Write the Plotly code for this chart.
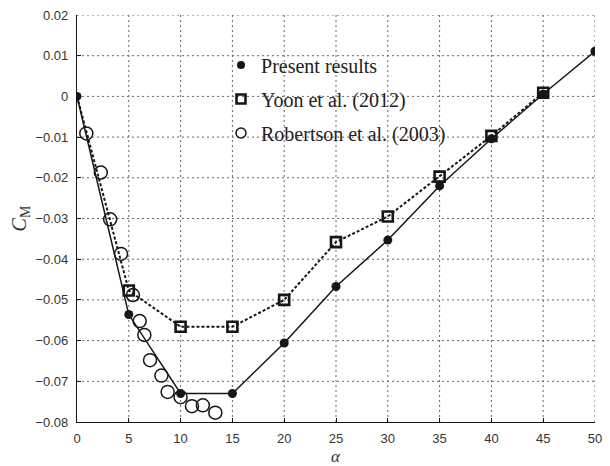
import plotly.graph_objects as go

# Present results
present_alpha = [0, 5, 10, 15, 20, 25, 30, 35, 40, 45, 50]
present_cm = [0.0, -0.0536, -0.0730, -0.0730, -0.0606, -0.0467, -0.0353, -0.0220, -0.0104, 0.0006, 0.0111]

# Yoon et al. (2012)
yoon_alpha = [0, 5, 10, 15, 20, 25, 30, 35, 40, 45]
yoon_cm = [0.0, -0.0477, -0.0566, -0.0566, -0.0500, -0.0358, -0.0295, -0.0197, -0.0097, 0.0009]

# Robertson et al. (2003)
rob_alpha = [0.9, 2.3, 3.2, 4.25, 5.4, 6.05, 6.5, 7.05, 8.15, 8.75, 10.0, 11.1, 12.15, 13.35]
rob_cm = [-0.0091, -0.0187, -0.0302, -0.0387, -0.0488, -0.0552, -0.0586, -0.0648, -0.0686, -0.0726,
          -0.0739, -0.0761, -0.0759, -0.0777]

x_ticks = [0, 5, 10, 15, 20, 25, 30, 35, 40, 45, 50]
y_ticks = [0.02, 0.01, 0, -0.01, -0.02, -0.03, -0.04, -0.05, -0.06, -0.07, -0.08]

BLACK = "#161616"
SERIF = "Liberation Serif, Times New Roman, serif"
SANS = "Liberation Sans, Arial, sans-serif"
GRID = "#666666"

fig = go.Figure()

# Dotted grid built from the tick arrays
for xv in x_ticks[1:]:
    fig.add_shape(type="line", xref="x", yref="y domain", x0=xv, x1=xv, y0=0, y1=1,
                  line=dict(color=GRID, width=1, dash="2px,3px"), layer="below")
for yv in y_ticks[:-1]:
    fig.add_shape(type="line", xref="x domain", yref="y", x0=0, x1=1, y0=yv, y1=yv,
                  line=dict(color=GRID, width=1, dash="2px,3px"), layer="below")

# Yoon: dotted line
fig.add_trace(go.Scatter(
    x=yoon_alpha, y=yoon_cm, mode="lines", showlegend=False,
    line=dict(color=BLACK, width=2, dash="3px,2px"),
))
# Yoon squares (origin point hidden under the filled dot)
fig.add_trace(go.Scatter(
    x=yoon_alpha[1:], y=yoon_cm[1:], mode="markers", showlegend=False,
    marker=dict(symbol="square-open", size=10, color=BLACK, line=dict(color=BLACK, width=2.6)),
))

# Present results: solid line with filled circles
fig.add_trace(go.Scatter(
    x=present_alpha, y=present_cm, mode="lines+markers", showlegend=False,
    line=dict(color=BLACK, width=1.5),
    marker=dict(symbol="circle", size=9, color=BLACK),
))

# Robertson: open circles
fig.add_trace(go.Scatter(
    x=rob_alpha, y=rob_cm, mode="markers", showlegend=False,
    marker=dict(symbol="circle-open", size=13, color=BLACK, line=dict(width=1.5)),
))

# Legend entries (markers only)
fig.add_trace(go.Scatter(x=[None], y=[None], mode="markers", name="Present results",
                         legendgroup="a",
                         marker=dict(symbol="circle", size=8, color=BLACK)))
fig.add_trace(go.Scatter(x=[None], y=[None], mode="markers", name="Yoon et al. (2012)",
                         legendgroup="b",
                         marker=dict(symbol="square-open", size=9, color=BLACK,
                                     line=dict(color=BLACK, width=2.6))))
fig.add_trace(go.Scatter(x=[None], y=[None], mode="markers", name="Robertson et al. (2003)",
                         legendgroup="c",
                         marker=dict(symbol="circle-open", size=10, color=BLACK, line=dict(width=1.5))))

axis_common = dict(
    showline=True, linecolor=BLACK, linewidth=1.2,
    ticks="inside", ticklen=4, tickcolor=BLACK,
    showgrid=False, zeroline=False, mirror=False,
    tickfont=dict(family=SANS, size=13, color="#333"),
)

fig.update_xaxes(range=[0, 50], tickvals=x_ticks, ticklabelstandoff=4,
                 **axis_common)
fig.update_yaxes(range=[-0.08, 0.02], tickvals=y_ticks, ticklabelstandoff=5,
                 title=dict(text="<i>C</i><sub>M</sub>", font=dict(family=SERIF, size=20, color="#333"), standoff=3),
                 **axis_common)

fig.add_annotation(text="<i>α</i>", xref="paper", yref="paper", x=0.5, y=0,
                   xanchor="center", yanchor="middle", yshift=-34, showarrow=False,
                   font=dict(family=SERIF, size=17, color="#333"))

fig.update_layout(
    width=610, height=466,
    margin=dict(l=77, r=8, t=10, b=44),
    plot_bgcolor="white", paper_bgcolor="white",
    legend=dict(x=0.278, y=0.925, xanchor="left", yanchor="top",
                bgcolor="rgba(0,0,0,0)", font=dict(family=SERIF, size=20, color="#222"),
                itemwidth=30, tracegroupgap=5, traceorder="grouped"),
)

fig.write_html("out.html")
